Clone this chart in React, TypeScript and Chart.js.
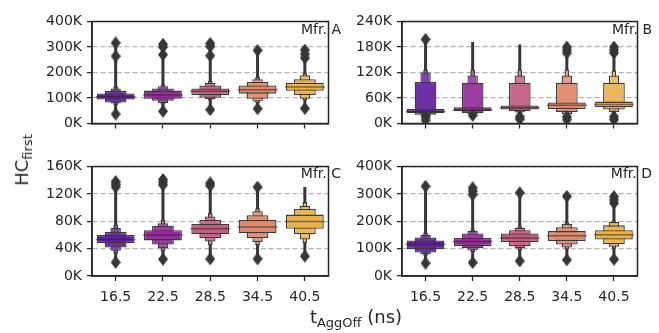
import React, { useEffect, useRef } from "react";
import { Chart, registerables } from "chart.js";
Chart.register(...registerables);

// ---------- data (values in thousands) ----------
const categories = ["16.5", "22.5", "28.5", "34.5", "40.5"];
const palette = ["#621ea0", "#962c99", "#c25d82", "#df8a6c", "#e9b24f"];

// letter-value boxes per category: [lo, hi] from innermost (IQR) outwards
const mfrA_levels = [
  [[94, 118], [82, 128], [78, 137], [72, 145]],
  [[97, 129], [89, 137], [80, 146], [74, 153]],
  [[112, 137], [101, 149], [95, 160], [90, 167]],
  [[117, 149], [97, 163], [86, 174], [80, 182]],
  [[128, 160], [112, 174], [97, 189], [90, 197]],
];
const mfrA_medians = [105, 112, 126, 132, 143];
const mfrA_whiskers = [[37, 316], [48, 311], [54, 314], [58, 287], [59, 288]];
const mfrA_outliers = [[316, 264, 37], [311, 300, 270, 48], [314, 302, 266, 54], [287, 58], [288, 272, 257, 59]];

const mfrB_levels = [
  [[24, 34], [20.6, 97.5], [17, 120], [14, 127]],
  [[29, 38], [24, 96], [22, 113], [20, 127]],
  [[33, 42.5], [29, 96], [26, 113], [23, 127]],
  [[34, 49.5], [27, 96], [22, 113], [18, 127]],
  [[38, 51.5], [33, 96], [27, 113], [22, 125]],
];
const mfrB_medians = [28.5, 32, 37, 43, 45];
const mfrB_whiskers = [[3, 198], [17, 192], [7, 186], [4, 186], [5, 186]];
const mfrB_outliers = [[198, 15, 8], [19], [16, 10], [180, 173, 166, 16, 9], [180, 173, 166, 16, 9]];

const mfrC_levels = [
  [[48, 60], [41.5, 64.5], [37, 70], [33, 75]],
  [[52, 67], [46, 73.5], [40.5, 77], [36, 82]],
  [[61, 76], [55, 82], [50.5, 87], [45, 92]],
  [[62.5, 82], [55, 88.7], [49.7, 94.7], [45, 99]],
  [[69, 89.7], [61, 98], [53.4, 102.5], [48, 108]],
];
const mfrC_medians = [53.5, 60, 69, 71.7, 79.6];
const mfrC_whiskers = [[20, 138], [24.5, 141], [25, 136], [25, 130], [29, 130]];
const mfrC_outliers = [[138, 134, 130, 20], [141, 137, 133, 24.5], [136, 132, 25], [130, 25], [29]];

const mfrD_levels = [
  [[98, 130], [86, 141], [80, 151], [74, 158]],
  [[109, 139], [101, 155], [93, 164], [87, 170]],
  [[124, 155], [109, 167], [101, 176], [95, 182]],
  [[128, 164], [115, 178], [104, 190], [97, 196]],
  [[133, 167], [116, 185], [107, 197], [100, 203]],
];
const mfrD_medians = [116, 126, 139, 147, 151];
const mfrD_whiskers = [[47, 328], [49, 322], [55, 304], [59, 291], [61, 290]];
const mfrD_outliers = [[328, 47], [322, 310, 297, 49], [304, 55], [291, 59], [290, 278, 266, 61]];

const yMaxes = [400, 240, 160, 400];
const ySteps = [100, 60, 40, 100];
const panelLabels = ["Mfr. A", "Mfr. B", "Mfr. C", "Mfr. D"];

// ---------- styling ----------
const FONT = "'DejaVu Sans', Verdana, sans-serif";
const INK = "#262626";
const EDGE = "#3a3a3a";
const levelWidths = [0.8, 0.46, 0.22, 0.1];
const levelLighten = [0, 0.07, 0.17, 0.3];

function lighten(hex: string, t: number) {
  const n = parseInt(hex.slice(1), 16);
  const r = (n >> 16) & 255, g = (n >> 8) & 255, b = n & 255;
  const m = (c: number) => Math.round(c + (255 - c) * t);
  return `rgb(${m(r)},${m(g)},${m(b)})`;
}

function makeDiamond() {
  const c = document.createElement("canvas");
  c.width = 10;
  c.height = 13;
  const g = c.getContext("2d")!;
  g.fillStyle = "#363636";
  g.beginPath();
  g.moveTo(5, 0);
  g.lineTo(10, 6.5);
  g.lineTo(5, 13);
  g.lineTo(0, 6.5);
  g.closePath();
  g.fill();
  return c;
}

const framePlugin = {
  id: "frame",
  afterDraw(chart: any) {
    const { ctx, chartArea } = chart;
    const { left, top, right, bottom } = chartArea;
    ctx.save();
    ctx.setLineDash([]);
    ctx.strokeStyle = INK;
    ctx.lineWidth = 1.5;
    ctx.strokeRect(left, top, right - left, bottom - top);
    ctx.restore();
  },
};

type PanelProps = {
  idx: number;
  levels: number[][][];
  medians: number[];
  whiskers: number[][];
  outliers: number[][];
  left: number;
  top: number;
  width: number;
  height: number;
  axisW: number;
  padTop: number;
  padRight: number;
  xAxisH: number;
  showX: boolean;
};

function Panel(p: PanelProps) {
  const ref = useRef<HTMLCanvasElement>(null);
  useEffect(() => {
    const diamond = makeDiamond();
    const datasets: any[] = [];
    const outPts: any[] = [];
    p.outliers.forEach((arr, i) => arr.forEach((v) => outPts.push({ x: categories[i], y: v })));
    datasets.push({
      type: "line",
      data: outPts,
      showLine: false,
      pointStyle: diamond,
      pointRadius: 6,
      pointHoverRadius: 6,
    });
    datasets.push({
      type: "line",
      data: p.medians,
      showLine: false,
      pointStyle: "line",
      pointRadius: 20,
      pointHoverRadius: 20,
      pointBorderWidth: 1.5,
      pointBorderColor: "rgba(38,38,38,0.55)",
      borderColor: "rgba(38,38,38,0.55)",
    });
    for (let k = 0; k < levelWidths.length; k++) {
      datasets.push({
        type: "bar",
        data: p.levels.map((c) => c[k]),
        grouped: false,
        categoryPercentage: 1,
        barPercentage: levelWidths[k],
        backgroundColor: palette.map((c) => lighten(c, levelLighten[k])),
        borderColor: EDGE,
        borderWidth: 1.3,
        borderSkipped: false,
      });
    }
    datasets.push({
      type: "bar",
      data: p.whiskers,
      grouped: false,
      categoryPercentage: 1,
      barPercentage: 0.1,
      maxBarThickness: 3,
      backgroundColor: "#363636",
      borderWidth: 0,
    });

    const chart = new Chart(ref.current!, {
      type: "bar",
      data: { labels: categories, datasets },
      options: {
        animation: false,
        responsive: false,
        events: [],
        layout: { padding: { top: p.padTop, right: p.padRight, left: 0, bottom: 0 } },
        plugins: { legend: { display: false }, tooltip: { enabled: false } },
        scales: {
          x: {
            type: "category",
            offset: true,
            afterFit: (s: any) => {
              s.height = p.xAxisH;
            },
            grid: {
              display: true,
              drawOnChartArea: false,
              drawTicks: true,
              tickLength: 5,
              tickWidth: 1.3,
              tickColor: INK,
              offset: false,
            },
            border: { display: true, color: INK, width: 1.5 },
            ticks: {
              display: p.showX,
              color: INK,
              font: { family: FONT, size: 14 },
              padding: 8,
              maxRotation: 0,
            },
          },
          y: {
            type: "linear",
            min: 0,
            max: yMaxes[p.idx],
            afterFit: (s: any) => {
              s.width = p.axisW;
            },
            ticks: {
              stepSize: ySteps[p.idx],
              color: INK,
              font: { family: FONT, size: 14 },
              padding: 5,
              callback: (v: any) => `${v}K`,
            },
            grid: {
              color: "#b3b3b3",
              lineWidth: 1.2,
              drawTicks: true,
              tickLength: 5,
              tickWidth: 1.3,
              tickColor: INK,
              tickBorderDash: [],
              borderDash: [5, 3],
            },
            border: { display: true, color: INK, width: 1.5, dash: [5, 3] },
          },
        },
      } as any,
      plugins: [framePlugin],
    });
    return () => chart.destroy();
  }, []);
  return (
    <canvas
      ref={ref}
      width={p.width}
      height={p.height}
      style={{ position: "absolute", left: p.left, top: p.top, width: p.width, height: p.height }}
    />
  );
}

const labelStyle = (right: number, top: number): React.CSSProperties => ({
  position: "absolute",
  right,
  top,
  fontFamily: FONT,
  fontSize: 14,
  lineHeight: "14px",
  color: INK,
  whiteSpace: "nowrap",
});

export default function App() {
  return (
    <div
      style={{
        position: "fixed",
        left: 0,
        top: 0,
        width: 659,
        height: 333,
        background: "#fff",
        overflow: "hidden",
      }}
    >
      <Panel idx={0} levels={mfrA_levels} medians={mfrA_medians} whiskers={mfrA_whiskers} outliers={mfrA_outliers}
        left={0} top={0} width={350} height={145} axisW={92} padTop={17} padRight={7} xAxisH={12} showX={false} />
      <Panel idx={1} levels={mfrB_levels} medians={mfrB_medians} whiskers={mfrB_whiskers} outliers={mfrB_outliers}
        left={350} top={0} width={309} height={145} axisW={52} padTop={17} padRight={6} xAxisH={12} showX={false} />
      <Panel idx={2} levels={mfrC_levels} medians={mfrC_medians} whiskers={mfrC_whiskers} outliers={mfrC_outliers}
        left={0} top={145} width={350} height={188} axisW={92} padTop={15} padRight={7} xAxisH={57} showX={true} />
      <Panel idx={3} levels={mfrD_levels} medians={mfrD_medians} whiskers={mfrD_whiskers} outliers={mfrD_outliers}
        left={350} top={145} width={309} height={188} axisW={52} padTop={15} padRight={6} xAxisH={57} showX={true} />

      <div style={labelStyle(659 - 341, 22)}>{panelLabels[0]}</div>
      <div style={labelStyle(659 - 652, 22)}>{panelLabels[1]}</div>
      <div style={labelStyle(659 - 341, 166)}>{panelLabels[2]}</div>
      <div style={labelStyle(659 - 652, 166)}>{panelLabels[3]}</div>

      <div
        style={{
          position: "absolute",
          left: 25,
          top: 160,
          transform: "translate(-50%, -50%) rotate(-90deg)",
          fontFamily: FONT,
          fontSize: 18,
          lineHeight: "20px",
          color: INK,
          whiteSpace: "nowrap",
        }}
      >
        HC<sub style={{ fontSize: 13, verticalAlign: "-4px" }}>first</sub>
      </div>
      <div
        style={{
          position: "absolute",
          left: 356,
          top: 320,
          transform: "translate(-50%, -50%)",
          fontFamily: FONT,
          fontSize: 18,
          lineHeight: "20px",
          color: INK,
          whiteSpace: "nowrap",
        }}
      >
        t<sub style={{ fontSize: 13, verticalAlign: "-4px" }}>AggOff</sub> (ns)
      </div>
    </div>
  );
}
